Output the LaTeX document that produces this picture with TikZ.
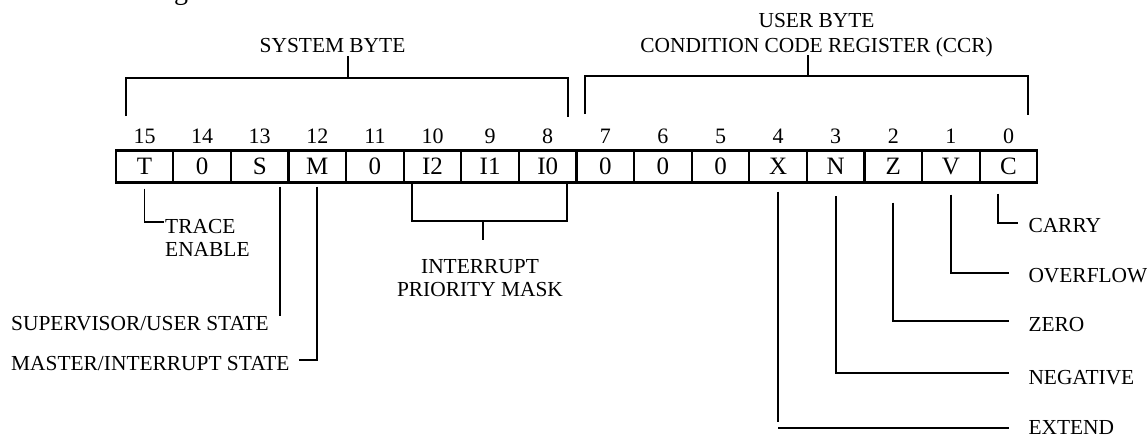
\documentclass[tikz,border=0pt]{standalone}
\usepackage{fontspec}
\setmainfont{Liberation Serif}
\usetikzlibrary{calc}
\begin{document}
\begin{tikzpicture}[x=1pt,y=-1pt,
  cell/.style={draw,line width=2.2pt,minimum width=57.6pt,minimum height=32pt,
    inner sep=0pt,text height=16.5pt,text depth=0pt,font=\fontsize{25}{30}\selectfont},
  bitnum/.style={anchor=base,inner sep=0pt,font=\fontsize{22}{26}\selectfont},
  lbl/.style={inner sep=0pt,text height=14pt,text depth=0pt,font=\fontsize{21.4}{25}\selectfont},
  wire/.style={line width=1.8pt},
]
\useasboundingbox (0,0) rectangle (1147,437);

% tail of the caption line above
\node[anchor=base,inner sep=0pt,font=\fontsize{28}{30}\selectfont] (capg) at (181,-0.5) {g};

% status register cells and bit numbers
\foreach \b/\t [count=\i from 0] in {15/T,14/0,13/S,12/M,11/0,10/I2,9/I1,8/I0,7/0,6/0,5/0,4/X,3/N,2/Z,1/V,0/C} {
  \node[cell] (cell\b) at ({115.7+(\i+0.5)*57.6},166.5) {\t};
  \node[bitnum] (num\b) at ({115.7+(\i+0.5)*57.6},143.3) {\b};
}

% byte headings
\node[lbl,anchor=base] (sysbyte) at (332.5,52) {SYSTEM BYTE};
\node[lbl,anchor=base] (userbyte) at (816.5,27) {USER BYTE};
\node[lbl,anchor=base] (ccr) at (816.6,52) {CONDITION CODE REGISTER (CCR)};

% system byte bracket
\coordinate (sysL) at (125.7,116);
\coordinate (sysR) at (568.3,117);
\coordinate (sysT) at (348.3,77.7);
\draw[wire] (sysL) |- (sysT) -| (sysR);
\draw[wire] (sysT) -- ($(sysT |- sysbyte.south)+(0,4)$);

% user byte bracket
\coordinate (usrL) at (585,114);
\coordinate (usrR) at (1028.3,115);
\coordinate (usrT) at (808.3,76);
\draw[wire] (usrL) |- (usrT) -| (usrR);
\draw[wire] (usrT) -- ($(usrT |- ccr.south)+(0,3)$);

% system byte field labels
\node[lbl,anchor=base west] (trace) at (165,233) {TRACE};
\node[lbl,anchor=base west] (enable) at (165,256.7) {ENABLE};
\draw[wire] ([yshift=-5pt]cell15.south) |- ([xshift=-1pt,yshift=4pt]trace.west);

\node[lbl,anchor=base west] (svstate) at (11,330) {SUPERVISOR/USER STATE};
\coordinate (sline) at ($(cell13.south)+(20.3,3)$);
\draw[wire] (sline) -- (sline |- svstate.north);

\node[lbl,anchor=base west] (mistate) at (11,370) {MASTER/INTERRUPT STATE};
\draw[wire] ([yshift=-3pt]cell12.south) |- ([xshift=9pt,yshift=3pt]mistate.east);

\node[lbl,anchor=base] (irq1) at (480,273) {INTERRUPT};
\node[lbl,anchor=base] (irq2) at (480,296.7) {PRIORITY MASK};
\coordinate (irqL) at ($(cell10.south)+(-20.8,0)$);
\coordinate (irqR) at ($(cell8.south)+(19,0)$);
\coordinate (irqT) at (482.7,221);
\draw[wire] (irqL) |- (irqT) -| (irqR);
\draw[wire] (irqT) -- ($(irqT |- irq1.north)+(0,-19)$);

% condition code labels
\node[lbl,anchor=base west] (carry) at (1028.3,232.7) {CARRY};
\node[lbl,anchor=base west] (overflow) at (1028.3,282.3) {OVERFLOW};
\node[lbl,anchor=base west] (zero) at (1028.3,331.7) {ZERO};
\node[lbl,anchor=base west] (negative) at (1028.3,384) {NEGATIVE};
\node[lbl,anchor=base west] (extend) at (1028.3,434.5) {EXTEND};

\draw[wire] ($(cell0.south)+(-10.2,10)$) |- ([xshift=-10pt,yshift=3pt]carry.west);
\draw[wire] ($(cell1.south)+(0,11)$) |- ([xshift=-19pt,yshift=2pt]overflow.west);
\draw[wire] ($(cell2.south)+(0,19)$) |- ([xshift=-19pt,yshift=4pt]zero.west);
\draw[wire] ($(cell3.south)+(0,12.5)$) |- ([xshift=-19pt,yshift=3.7pt]negative.west);
\coordinate (xtop) at ($(cell4.south)+(0,8)$);
\draw[wire] (xtop) -- ($(xtop |- extend.west)+(0,-6)$);
\draw[wire] ($(xtop |- extend.west)+(0,0.8)$) -- ([xshift=-19pt,yshift=-0.8pt]extend.west);
\end{tikzpicture}
\end{document}
